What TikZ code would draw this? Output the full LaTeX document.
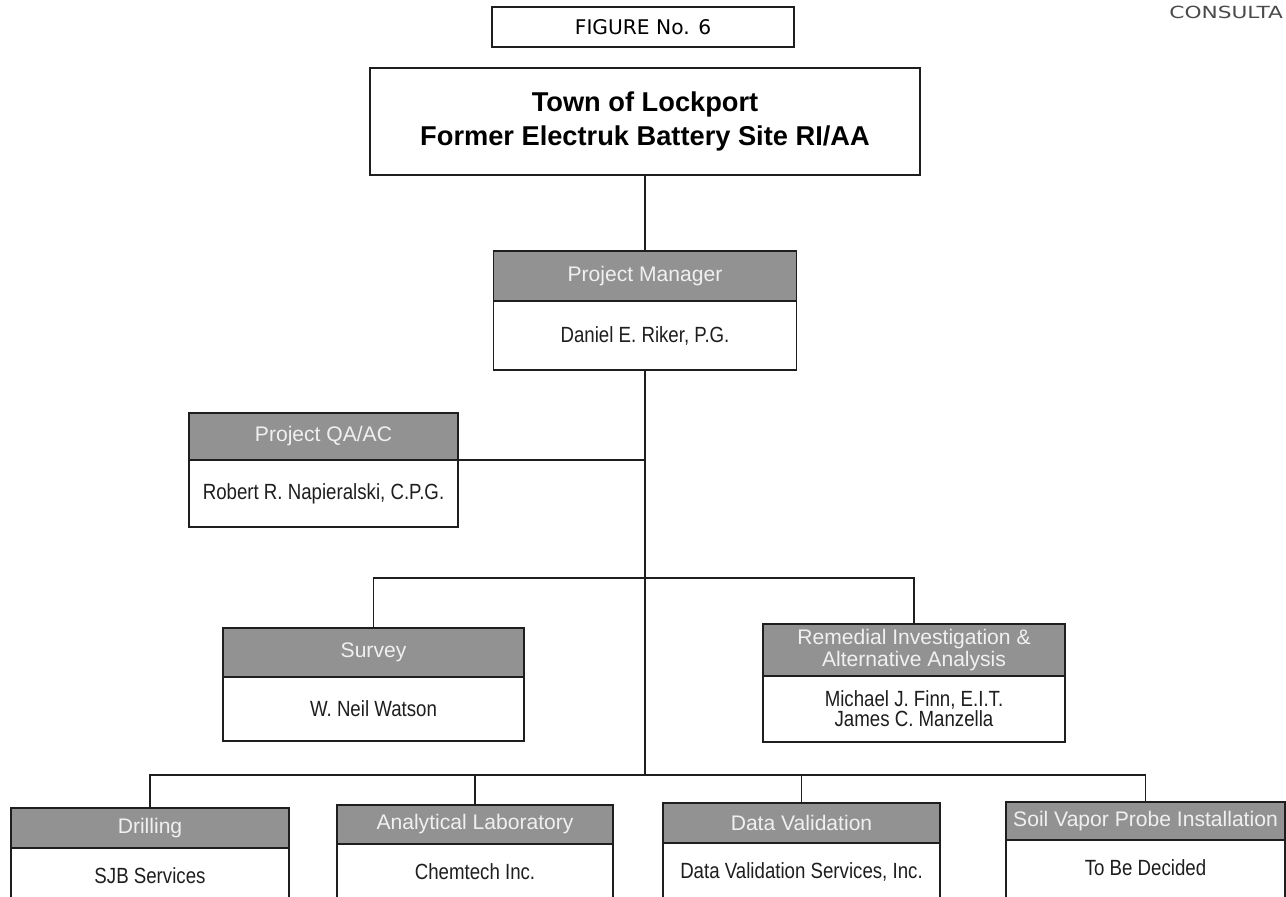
\documentclass[tikz,border=0pt]{standalone}
\usepackage{fontspec}
\setmainfont{Liberation Sans}
\newfontfamily\namefont[FakeStretch=0.85]{Liberation Sans}
\newfontfamily\figfont{DejaVu Sans}
\newfontfamily\firmfont[FakeStretch=1.3]{DejaVu Sans}
\usetikzlibrary{positioning}
\pgfdeclarelayer{bg}
\pgfsetlayers{bg,main}
\definecolor{headgray}{RGB}{146,146,146}
\definecolor{ink}{RGB}{30,30,30}
\tikzset{
    every node/.style={rectangle, draw=ink, line width=1pt, outer sep=0pt, inner sep=1mm}
}
\tikzset{role/.style={fill=headgray, text=white!94!black, align=center, font=\fontsize{12}{12.5}\selectfont}}
\tikzset{person/.style={fill=white, text=ink, align=center, font=\namefont\fontsize{12.5}{11.5}\selectfont}}
% lowest row: boxes run on past the lower edge of the sheet
\tikzset{cutoff/.style={text height=0.6cm, text depth=0.9cm}}
\tikzset{wire/.style={draw=ink, line width=1pt}}

\begin{document}
\begin{tikzpicture}
        \useasboundingbox (0,0) rectangle (25.72cm,-17.92cm);
        \node (firm) [draw=none, anchor=east, inner sep=0pt, text=ink!80, font=\firmfont\fontsize{9.5}{10}\selectfont] at (25.66cm, -0.25cm) {CONSULTA};
        \node (fig) [minimum width=6.04cm, minimum height=0.8cm, font=\figfont\fontsize{11.5}{12}\selectfont] at (12.86cm, -0.54cm) {FIGURE No. 6};
        \node (town) [minimum width=11cm, minimum height=2.14cm, align=center, font=\bfseries\fontsize{15.5}{19.3}\selectfont] at (12.9cm, -2.43cm) {Town of Lockport\\Former Electruk Battery Site RI/AA};
        \node (pmh) [role, minimum width=6.06cm, minimum height=1.0cm] at (12.9cm, -5.52cm) {Project Manager};
        \node (pmb) [person, minimum width=6.06cm, minimum height=1.38cm, below=0pt of pmh] {Daniel E. Riker, P.G.};
        \node (qah) [role, minimum width=5.38cm, minimum height=0.94cm] at (6.47cm, -8.73cm) {Project QA/AC};
        \node (qab) [person, minimum width=5.38cm, minimum height=1.34cm, below=0pt of qah] {Robert R. Napieralski, C.P.G.};
        \node (svh) [role, minimum width=6.02cm, minimum height=0.98cm] at (7.47cm, -13.05cm) {Survey};
        \node (svb) [person, minimum width=6.02cm, minimum height=1.28cm, below=0pt of svh] {W. Neil Watson};
        \node (rih) [role, minimum width=6.04cm, minimum height=1.0cm] at (18.28cm, -13.0cm) {Remedial Investigation \&\\Alternative Analysis};
        \node (rib) [person, minimum width=6.04cm, minimum height=1.32cm, below=0pt of rih] {Michael J. Finn, E.I.T.\\James C. Manzella};
        \node (drh) [role, minimum width=5.56cm, minimum height=0.8cm] at (3.0cm, -16.56cm) {Drilling};
        \node (drb) [person, cutoff, minimum width=5.56cm, below=0pt of drh] {SJB Services};
        \node (alh) [role, minimum width=5.52cm, minimum height=0.78cm] at (9.5cm, -16.49cm) {Analytical Laboratory};
        \node (alb) [person, cutoff, minimum width=5.52cm, below=0pt of alh] {Chemtech Inc.};
        \node (dvh) [role, minimum width=5.54cm, minimum height=0.8cm] at (16.03cm, -16.46cm) {Data Validation};
        \node (dvb) [person, cutoff, minimum width=5.54cm, below=0pt of dvh] {Data Validation Services, Inc.};
        \node (soh) [role, minimum width=5.58cm, minimum height=0.76cm, inner sep=0pt] at (22.91cm, -16.42cm) {Soil Vapor Probe Installation};
        \node (sob) [person, cutoff, minimum width=5.58cm, below=0pt of soh] {To Be Decided};
        \coordinate (midbus) at (12.9cm, -11.56cm);
        \coordinate (lowbus) at (12.9cm, -15.5cm);
        \begin{pgfonlayer}{bg}
                \draw [wire] (town.south) -- (pmh.north);
                \draw [wire] (pmb.south) -- (lowbus);
                \draw [wire] (qab.north east) -- (qab.north east -| pmb.south);
                \draw [wire] (svh.north) |- (midbus) -| (rih.north);
                \draw [wire] (drh.north) |- (lowbus) -| (soh.north);
                \draw [wire] (alh.north) -- (alh.north |- lowbus);
                \draw [wire] (dvh.north) -- (dvh.north |- lowbus);
        \end{pgfonlayer}
\end{tikzpicture}
\end{document}
